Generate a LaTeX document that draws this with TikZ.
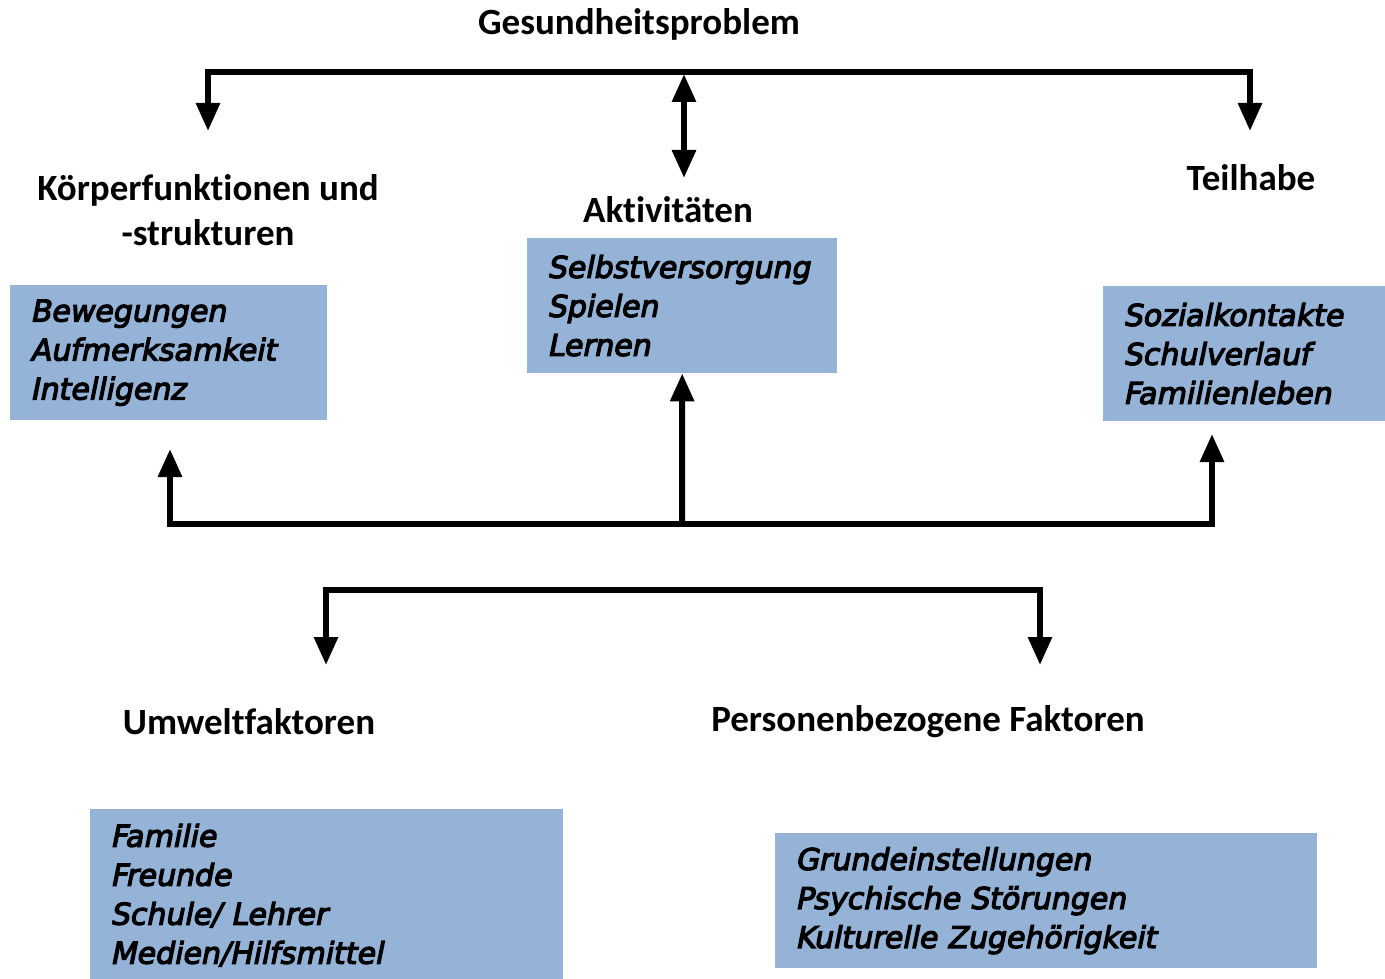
\documentclass[tikz,border=0pt]{standalone}
\usepackage{fontspec}
\setmainfont[Ligatures={NoCommon}]{Carlito}
\newfontfamily\boxfont[FakeBold=4,FakeSlant=0.2]{DejaVu Sans}
\usetikzlibrary{arrows.meta}
\definecolor{boxblue}{RGB}{149,179,215}
\tikzset{
  bar/.style={line width=6pt},
  arr/.style={line width=6pt, -{Triangle[width=23pt,length=28pt]}},
  dblarr/.style={line width=6pt, {Triangle[width=23pt,length=28pt]}-{Triangle[width=23pt,length=28pt]}},
  heading/.style={font=\fontsize{37}{45}\selectfont\bfseries, inner sep=0pt, align=center},
  infobox/.style={fill=boxblue, anchor=north west, inner xsep=20pt, inner ysep=0pt, align=left,
    font=\boxfont\fontsize{30}{39}\selectfont},
}

\begin{document}
\begin{tikzpicture}[x=1pt, y=-1pt]
  \useasboundingbox (0,0) rectangle (1385,979);

  % headings
  \node[heading] (gesund) at (639,24) {Gesundheitsproblem};
  \node[heading] (koerper) at (208,210) {Körperfunktionen und\\-strukturen};
  \node[heading] (aktiv) at (668,210) {Aktivitäten};
  \node[heading] (teilhabe) at (1251,178) {Teilhabe};
  \node[heading] (umwelt) at (249,722) {Umweltfaktoren};
  \node[heading] (person) at (928,722) {Personenbezogene Faktoren};

  % blue boxes
  \node[infobox, text width=277pt, minimum height=135pt] (koerperbox) at (10,285)
    {Bewegungen\\Aufmerksamkeit\\Intelligenz};
  \node[infobox, text width=270pt, minimum height=135pt] (aktivbox) at (527,238)
    {Selbstversorgung\\Spielen\\Lernen};
  \node[infobox, text width=242pt, minimum height=135pt] (teilhabebox) at (1103,286)
    {Sozialkontakte\\Schulverlauf\\Familienleben};
  \node[infobox, text width=433pt, minimum height=172pt] (umweltbox) at (90,809)
    {Familie\\Freunde\\Schule/ Lehrer\\Medien/Hilfsmittel};
  \node[infobox, text width=502pt, minimum height=135pt] (personbox) at (775,833)
    {Grundeinstellungen\\Psychische Störungen\\Kulturelle Zugehörigkeit};

  % upper bracket
  \coordinate (topM) at (684,72);
  \coordinate (koerperTip) at (208,131);
  \coordinate (teilhabeTip) at (1250,131);
  \coordinate (aktivTop) at (684,74);
  \coordinate (aktivTip) at (684,178);
  \draw[arr] (topM) -| (koerperTip);
  \draw[arr] (topM) -| (teilhabeTip);
  \draw[dblarr] (aktivTop) -- (aktivTip);

  % lower bracket
  \coordinate (midM) at (682,524);
  \coordinate (koerperUp) at (170,449);
  \coordinate (teilhabeUp) at (1212,434);
  \draw[arr] (midM) -| (koerperUp);
  \draw[arr] (midM) -| (teilhabeUp);
  \draw[arr] (midM) -- (aktivbox.south);

  % context factors
  \coordinate (ctxM) at (683,590);
  \coordinate (umweltTip) at (326,665);
  \coordinate (personTip) at (1040,665);
  \draw[arr] (ctxM) -| (umweltTip);
  \draw[arr] (ctxM) -| (personTip);
\end{tikzpicture}
\end{document}
